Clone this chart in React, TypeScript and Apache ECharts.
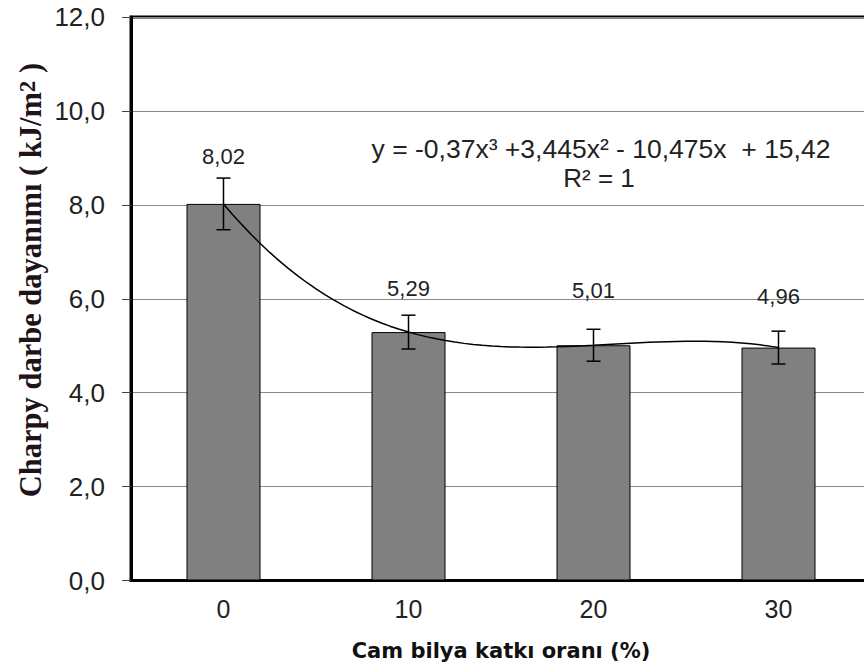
import React, { useEffect, useRef } from "react";
import * as echarts from "echarts";

// ---- data ----
const categories = ["0", "10", "20", "30"];
const strength = [8.02, 5.29, 5.01, 4.96];
const errorMargins = [0.55, 0.36, 0.34, 0.35];
const yMin = 0;
const yMax = 12;
const yStep = 2;
// Excel cubic trendline shown on the chart (x = 1..4 for the four categories)
const trendCoefficients = [-0.37, 3.445, -10.475, 15.42];
const equationText = "y = -0,37x³ +3,445x² - 10,475x  + 15,42";
const r2Text = "R² = 1";
const xTitle = "Cam bilya katkı oranı (%)";
const yTitleMain = "Charpy darbe dayanımı ( kJ/m";
const yTitleSup = "2";
const yTitleEnd = " )";

// ---- styling ----
const labelGaps = [36, 33, 44, 40];
const SANS = "'Liberation Sans', Arial, sans-serif";
const CHART_W = 884;

const comma = (v: number, d: number) => v.toFixed(d).replace(".", ",");

export default function App() {
  const ref = useRef<HTMLDivElement>(null);

  useEffect(() => {
    document.body.style.margin = "0";
    if (!ref.current) return;
    const chart = echarts.init(ref.current, undefined, { renderer: "svg" });

    const trendData: number[][] = [];
    for (let k = 0; k <= 60; k++) {
      const x = 1 + (3 * k) / 60;
      const [a, b, c, d] = trendCoefficients;
      trendData.push([x, a * x * x * x + b * x * x + c * x + d]);
    }

    chart.setOption({
      animation: false,
      backgroundColor: "#ffffff",
      grid: {
        left: 131,
        top: 17,
        bottom: 91.5,
        right: CHART_W - 871,
        show: true,
        borderColor: "#000",
        borderWidth: 3,
        backgroundColor: "#fff",
      },
      xAxis: [
        {
          type: "category",
          data: categories,
          axisLine: { lineStyle: { color: "#000", width: 3 } },
          axisTick: { show: false },
          axisLabel: {
            color: "#222",
            fontFamily: SANS,
            fontSize: 25,
            margin: 16,
          },
          name: xTitle,
          nameLocation: "middle",
          nameGap: 60,
          nameTextStyle: {
            fontFamily: "'DejaVu Sans', Verdana, sans-serif",
            fontWeight: "bold",
            fontSize: 21,
            color: "#111",
          },
        },
        {
          type: "value",
          min: 0.5,
          max: 4.5,
          show: false,
          splitLine: { show: false },
        },
      ],
      yAxis: {
        type: "value",
        min: yMin,
        max: yMax,
        interval: yStep,
        axisLine: { show: true, lineStyle: { color: "#000", width: 3 } },
        axisTick: { show: true, length: 9, lineStyle: { color: "#444", width: 1 } },
        axisLabel: {
          color: "#222",
          fontFamily: SANS,
          fontSize: 26,
          margin: 26,
          formatter: (v: number) => comma(v, 1),
        },
        splitLine: { lineStyle: { color: "#8a8a8a", width: 1 } },
      },
      series: [
        {
          type: "bar",
          data: strength.map((v, i) => ({
            value: v,
            label: { distance: labelGaps[i] },
          })),
          barWidth: 74,
          itemStyle: { color: "#808080", borderColor: "#000", borderWidth: 1 },
          label: {
            show: true,
            position: "top",
            color: "#222",
            fontFamily: SANS,
            fontSize: 22,
            formatter: (p: any) => comma(p.value, 2),
          },
          z: 2,
        },
        {
          type: "line",
          xAxisIndex: 1,
          data: trendData,
          showSymbol: false,
          smooth: false,
          lineStyle: { color: "#000", width: 1.5 },
          z: 4,
          silent: true,
        },
        {
          type: "custom",
          xAxisIndex: 0,
          data: strength.map((v, i) => [i, v - errorMargins[i], v + errorMargins[i]]),
          encode: { x: 0, y: [1, 2] },
          renderItem: (_params: any, api: any) => {
            const i = api.value(0);
            const lo = api.coord([i, api.value(1)]);
            const hi = api.coord([i, api.value(2)]);
            const half = 7;
            const style = { stroke: "#000", lineWidth: 1.5 };
            return {
              type: "group",
              children: [
                { type: "line", shape: { x1: lo[0], y1: lo[1], x2: hi[0], y2: hi[1] }, style },
                { type: "line", shape: { x1: lo[0] - half, y1: lo[1], x2: lo[0] + half, y2: lo[1] }, style },
                { type: "line", shape: { x1: hi[0] - half, y1: hi[1], x2: hi[0] + half, y2: hi[1] }, style },
              ],
            };
          },
          z: 5,
        },
      ],
      graphic: [
        {
          type: "text",
          x: 601,
          y: 149,
          style: {
            text: equationText,
            fill: "#222",
            font: `26.5px ${SANS}`,
            textAlign: "center",
            textVerticalAlign: "middle",
          },
        },
        {
          type: "text",
          x: 599,
          y: 178,
          style: {
            text: r2Text,
            fill: "#222",
            font: `26px ${SANS}`,
            textAlign: "center",
            textVerticalAlign: "middle",
          },
        },
        {
          type: "text",
          x: 31,
          y: 280,
          rotation: Math.PI / 2,
          style: {
            text: `{t|${yTitleMain}}{s|${yTitleSup}}{t|${yTitleEnd}}`,
            textAlign: "center",
            textVerticalAlign: "middle",
            rich: {
              t: {
                fill: "#1e1418",
                fontFamily: "'Liberation Serif', 'Times New Roman', serif",
                fontWeight: "bold",
                fontSize: 30.5,
              },
              s: {
                fill: "#1e1418",
                fontFamily: "'Liberation Serif', 'Times New Roman', serif",
                fontWeight: "bold",
                fontSize: 23,
                verticalAlign: "top",
              },
            },
          },
        },
      ],
    });

    return () => chart.dispose();
  }, []);

  return (
    <div style={{ width: 864, height: 672, overflow: "hidden", position: "relative" }}>
      <div ref={ref} style={{ width: CHART_W, height: 672 }} />
    </div>
  );
}
